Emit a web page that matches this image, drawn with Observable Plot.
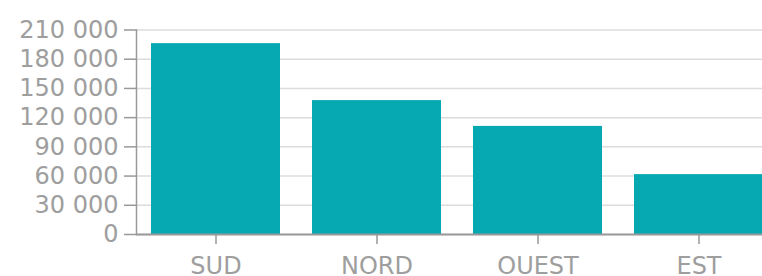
<!DOCTYPE html>
<html>
<head>
<meta charset="utf-8">
<script src="https://cdn.jsdelivr.net/npm/d3@7"></script>
<script src="https://cdn.jsdelivr.net/npm/@observablehq/plot@0.6"></script>
<style>
  html, body { margin: 0; padding: 0; background: #fff; overflow: hidden; }
</style>
</head>
<body>
<div id="chart"></div>
<script>
const regions = ["SUD", "NORD", "OUEST", "EST"];
const values = [196000, 137500, 111000, 61500];
const yTicks = [0, 30000, 60000, 90000, 120000, 150000, 180000, 210000];

const data = regions.map((r, i) => ({region: r, value: values[i]}));
const fmt = d => d3.format(",")(d).replace(/,/g, " ");

const textColor = "#9e9e9e";
const axisColor = "#999999";

const chart = Plot.plot({
  width: 762,
  height: 276,
  marginLeft: 136,
  marginRight: 0,
  marginTop: 29.5,
  marginBottom: 42,
  style: {fontFamily: "DejaVu Sans", fontSize: "24px", color: textColor, background: "#fff", overflow: "visible"},
  x: {domain: regions, range: [135, 779], paddingInner: 0.2, paddingOuter: 0.1, label: null},
  y: {domain: [0, 210000], label: null},
  marks: [
    Plot.gridY(yTicks, {stroke: "#dcdcdc", strokeOpacity: 1, strokeWidth: 1.5}),
    Plot.barY(data, {x: "region", y: "value", fill: "#06a8b2"}),
    Plot.axisY(yTicks, {tickFormat: fmt, tickSize: 12, tickPadding: 6, stroke: axisColor, strokeWidth: 1.5, fontSize: 24, fill: textColor}),
    Plot.axisX({tickSize: 10, tickPadding: 12, stroke: axisColor, strokeWidth: 1.5, fontSize: 24, fill: textColor}),
    Plot.frame({anchor: "left", stroke: axisColor, strokeWidth: 1.5}),
    Plot.ruleY([0], {stroke: axisColor, strokeWidth: 2})
  ]
});
document.getElementById("chart").appendChild(chart);
</script>
</body>
</html>
